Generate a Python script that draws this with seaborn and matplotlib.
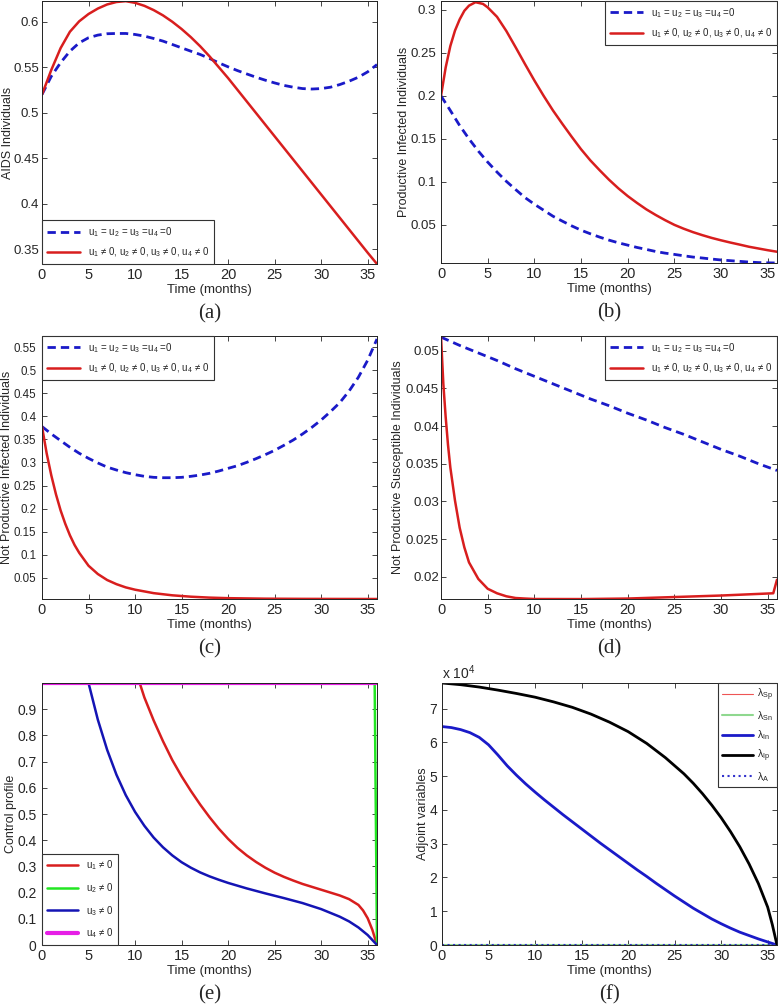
import numpy as np
import matplotlib
matplotlib.use('Agg')
import matplotlib.pyplot as plt
from matplotlib.ticker import FuncFormatter
import seaborn as sns

# ---------------- data ----------------
# (a) AIDS individuals
t_a = list(range(37))
a_no_ctrl = [0.520, 0.540, 0.555, 0.5676, 0.5768, 0.5824, 0.5853, 0.5868, 0.5871, 0.5871,
             0.586, 0.5842, 0.5816, 0.5787, 0.575, 0.5713, 0.5676, 0.564, 0.5596, 0.5548,
             0.5504, 0.5463, 0.5426, 0.539, 0.5357, 0.5327, 0.530, 0.528, 0.5265, 0.526,
             0.5265, 0.528, 0.5309, 0.5346, 0.539, 0.5449, 0.5529]
a_ctrl = [0.520, 0.547, 0.571, 0.589, 0.6005, 0.6085, 0.6145, 0.619, 0.6217, 0.6226,
          0.6208, 0.6175, 0.6128, 0.607, 0.600, 0.592, 0.583, 0.573, 0.562, 0.550,
          0.538, 0.5252, 0.5124, 0.4996, 0.4868, 0.474, 0.4612, 0.4484, 0.4356, 0.4228,
          0.410, 0.3972, 0.3844, 0.3716, 0.3588, 0.346, 0.3336]

# (b) productive infected
t_b = list(range(37))
b_no_ctrl = [0.2, 0.183, 0.1655, 0.150, 0.1358, 0.123, 0.1114, 0.1006, 0.091, 0.0817,
             0.074, 0.067, 0.060, 0.0543, 0.0488, 0.0438, 0.0396, 0.0357, 0.0322, 0.0291,
             0.0264, 0.0237, 0.0214, 0.019, 0.0171, 0.0156, 0.014, 0.0125, 0.0114, 0.0102,
             0.0091, 0.0083, 0.0075, 0.0067, 0.0061, 0.0058, 0.0056]
t_b_ctrl = [0, 0.5, 1, 1.5, 2, 2.5, 3, 3.7, 4.5, 5, 6, 7, 8, 9, 10, 11, 12, 13, 14, 15,
            16, 17, 18, 19, 20, 21, 22, 23, 24, 25, 26, 27, 28, 29, 30, 31, 32, 33, 34, 35, 36]
b_ctrl = [0.200, 0.233, 0.258, 0.276, 0.289, 0.299, 0.305, 0.309, 0.307, 0.303, 0.292,
          0.2755, 0.2565, 0.237, 0.218, 0.200, 0.183, 0.1675, 0.1525, 0.138, 0.125, 0.1135,
          0.1025, 0.0925, 0.0835, 0.0755, 0.068, 0.0615, 0.0555, 0.050, 0.0455, 0.0415,
          0.038, 0.0348, 0.032, 0.0294, 0.027, 0.0245, 0.0225, 0.0205, 0.0187]

# (c) not productive infected
t_c = list(range(37))
c_no_ctrl = [0.378, 0.362, 0.3474, 0.333, 0.320, 0.309, 0.299, 0.290, 0.2837, 0.278,
             0.2736, 0.270, 0.2678, 0.267, 0.267, 0.2678, 0.270, 0.2728, 0.2765, 0.2815,
             0.2873, 0.293, 0.3003, 0.3083, 0.317, 0.3264, 0.3373, 0.3488, 0.3619, 0.3763,
             0.3922, 0.4103, 0.4299, 0.455, 0.485, 0.522, 0.568]
t_c_ctrl = [0, 0.5, 1, 1.5, 2, 2.5, 3, 3.5, 4, 5, 6, 7, 8, 9, 10, 12, 14, 16, 18, 20, 24, 28, 32, 36]
c_ctrl = [0.378, 0.320, 0.272, 0.231, 0.196, 0.167, 0.142, 0.121, 0.104, 0.076, 0.058,
          0.045, 0.036, 0.029, 0.024, 0.0165, 0.0118, 0.0088, 0.0068, 0.0056, 0.0045,
          0.0041, 0.0039, 0.0038]

# (d) not productive susceptible
t_d = list(range(0, 37, 2))
d_no_ctrl = [0.0518, 0.0507, 0.0497, 0.0487, 0.0476, 0.0466, 0.0456, 0.0446, 0.0436, 0.0427,
             0.0417, 0.0408, 0.0398, 0.0389, 0.0379, 0.0369, 0.0360, 0.0350, 0.0341]
t_d_ctrl = [0, 0.25, 0.5, 0.75, 1, 1.5, 2, 2.5, 3, 4, 5, 6, 7, 8, 9, 10, 15, 20, 25, 30, 35.6, 36]
d_ctrl = [0.0519, 0.0456, 0.0412, 0.0375, 0.0345, 0.0301, 0.0265, 0.0239, 0.0219, 0.0197,
          0.0184, 0.0178, 0.0174, 0.01717, 0.0171, 0.01704, 0.01703, 0.0171, 0.0173, 0.0175,
          0.0178, 0.0196]

# (e) controls
t_u1 = [0, 10.5, 11, 12, 13, 14, 15, 16, 17, 18, 19, 20, 21, 22, 23, 24, 25, 26, 27, 28,
        29, 30, 31, 32, 33, 34, 34.5, 35, 35.5, 36]
u1 = [1, 1, 0.945, 0.857, 0.778, 0.706, 0.644, 0.588, 0.536, 0.488, 0.444, 0.405, 0.371,
      0.342, 0.317, 0.295, 0.276, 0.26, 0.246, 0.233, 0.222, 0.211, 0.2, 0.189, 0.175, 0.153,
      0.132, 0.102, 0.058, 0]
t_u2 = [0, 35.75, 36]
u2 = [1, 1, 0]
t_u3 = [0, 5, 6, 7, 8, 9, 10, 11, 12, 13, 14, 15, 16, 17, 18, 19, 20, 22, 24, 26, 28, 30,
        32, 33, 34, 35, 36]
u3 = [1, 1, 0.86, 0.745, 0.65, 0.572, 0.508, 0.455, 0.41, 0.373, 0.342, 0.316, 0.295,
      0.277, 0.262, 0.249, 0.237, 0.216, 0.197, 0.179, 0.16, 0.137, 0.108, 0.09, 0.067,
      0.038, 0]
t_u4 = [0, 36]
u4 = [1, 1]

# (f) adjoint variables
t_In = [0, 1, 2, 3, 4, 5, 6, 7, 8, 9, 10, 11, 12, 13, 14, 15, 16, 17, 18, 19, 20, 21, 22,
        23, 24, 25, 26, 27, 28, 29, 30, 31, 32, 33, 34, 35, 36]
lam_In = [6.47e4, 6.44e4, 6.38e4, 6.29e4, 6.15e4, 5.93e4, 5.63e4, 5.31e4, 5.03e4, 4.77e4,
          4.53e4, 4.3e4, 4.08e4, 3.86e4, 3.65e4, 3.44e4, 3.23e4, 3.02e4, 2.82e4, 2.62e4,
          2.42e4, 2.22e4, 2.03e4, 1.83e4, 1.64e4, 1.45e4, 1.27e4, 1.09e4, 0.93e4, 0.77e4,
          0.63e4, 0.5e4, 0.38e4, 0.28e4, 0.18e4, 0.09e4, 0]
t_Ip = [0, 2, 4, 6, 8, 10, 12, 14, 16, 18, 20, 22, 24, 26, 27, 28, 29, 30, 31, 32, 33, 34,
        35, 35.5, 36]
lam_Ip = [7.76e4, 7.71e4, 7.64e4, 7.55e4, 7.45e4, 7.34e4, 7.2e4, 7.04e4, 6.84e4, 6.6e4,
          6.32e4, 5.97e4, 5.55e4, 5.07e4, 4.79e4, 4.48e4, 4.14e4, 3.77e4, 3.36e4, 2.91e4,
          2.4e4, 1.82e4, 1.12e4, 0.6e4, 0]
t_zero = [0, 36]
lam_Sp = [0, 0]
lam_Sn = [0, 0]
lam_A = [0, 0]

leg0 = 'u$_1$ = u$_2$ = u$_3$ =u$_4$ =0'
leg1 = 'u$_1$ \u2260 0, u$_2$ \u2260 0, u$_3$ \u2260 0, u$_4$ \u2260 0'

RED = '#d81e1e'
BLUE = '#1a1ac8'

sns.set_theme(style='ticks')
plt.rcParams['font.family'] = ['Liberation Sans', 'DejaVu Sans']
plt.rcParams.update({
    'mathtext.fontset': 'custom',
    'mathtext.rm': 'Liberation Sans',
    'mathtext.it': 'Liberation Sans:italic',
    'xtick.direction': 'in', 'ytick.direction': 'in',
    'xtick.top': True, 'ytick.right': True,
    'xtick.major.size': 3.5, 'ytick.major.size': 3.5,
    'xtick.major.width': 0.6, 'ytick.major.width': 0.6,
    'axes.linewidth': 0.7, 'axes.edgecolor': '#222222',
    'xtick.labelsize': 10.5, 'ytick.labelsize': 10,
    'xtick.major.pad': 3,
})

W, H = 778, 1005
fig = plt.figure(figsize=(W / 100, H / 100), dpi=100)


def make_ax(l, r, top, bot):
    return fig.add_axes([l / W, 1 - bot / H, (r - l) / W, (bot - top) / H])


def finish(ax, letter, ylab, ylabx, h_px, ysize, ypad):
    ax.set_xlim(0, 36)
    ax.set_xticks(range(0, 36, 5))
    ax.yaxis.set_major_formatter(FuncFormatter(lambda v, p: '%g' % round(v, 6)))
    ax.tick_params(axis='y', labelsize=ysize, pad=ypad)
    ax.set_xlabel('Time (months)', fontsize=9.5)
    ax.xaxis.set_label_coords(0.5, -20 / h_px)
    ax.set_ylabel(ylab, fontsize=9)
    ax.yaxis.set_label_coords(ylabx, 0.5)
    ax.text(0.5, -50 / h_px, letter, transform=ax.transAxes, ha='center', va='center',
            fontsize=15, family='Liberation Serif')


def two_lines(ax, tb, yb, tr, yr, loc):
    sns.lineplot(x=tb, y=yb, ax=ax, color=BLUE, lw=2, ls=(0, (3, 1.8)), label=leg0)
    sns.lineplot(x=tr, y=yr, ax=ax, color=RED, lw=1.8, label=leg1)
    ax.legend(loc=loc, fontsize=7, frameon=True, fancybox=False, edgecolor='#333333',
              borderaxespad=0, handlelength=3.4, labelspacing=0.7, borderpad=0.5,
              framealpha=1)
    ax.get_legend().get_frame().set_linewidth(0.8)


# (a)
ax = make_ax(42, 377, 1, 264)
two_lines(ax, t_a, a_no_ctrl, t_a, a_ctrl, 'lower left')
ax.set_ylim(0.3336, 0.6228)
ax.set_yticks([0.35, 0.4, 0.45, 0.5, 0.55, 0.6])
finish(ax, '(a)', 'AIDS Individuals', -0.084, 263, 9.5, 2.2)

# (b)
ax = make_ax(441, 777, 1, 263)
two_lines(ax, t_b, b_no_ctrl, t_b_ctrl, b_ctrl, 'upper right')
ax.set_ylim(0.0056, 0.3104)
ax.set_yticks([0.05, 0.1, 0.15, 0.2, 0.25, 0.3])
finish(ax, '(b)', 'Productive Infected Individuals', -0.092, 262, 9.5, 3.5)

# (c)
ax = make_ax(42, 377, 336, 599)
two_lines(ax, t_c, c_no_ctrl, t_c_ctrl, c_ctrl, 'upper left')
ax.set_ylim(0.0038, 0.5745)
ax.set_yticks(np.arange(0.05, 0.56, 0.05))
finish(ax, '(c)', 'Not Productive Infected Individuals', -0.088, 263, 8.3, 4)

# (d)
ax = make_ax(441, 777, 336, 599)
two_lines(ax, t_d, d_no_ctrl, t_d_ctrl, d_ctrl, 'upper right')
ax.set_ylim(0.01704, 0.05195)
ax.set_yticks([0.02, 0.025, 0.03, 0.035, 0.04, 0.045, 0.05])
finish(ax, '(d)', 'Not Productive Susceptible Individuals', -0.110, 263, 9.5, 1.5)

# (e)
ax = make_ax(42, 377, 683, 945)
sns.lineplot(x=t_u1, y=u1, ax=ax, color=RED, lw=1.8, label='u$_1$ \u2260 0')
sns.lineplot(x=t_u2, y=u2, ax=ax, color='#22e622', lw=1.8, label='u$_2$ \u2260 0')
sns.lineplot(x=t_u3, y=u3, ax=ax, color='#1414b4', lw=1.8, label='u$_3$ \u2260 0')
sns.lineplot(x=t_u4, y=u4, ax=ax, color='#e61ee6', lw=3, label='u$_4$ \u2260 0')
ax.set_ylim(0, 1.0)
ax.set_yticks(np.arange(0, 0.95, 0.1))
ax.legend(loc='lower left', fontsize=7, frameon=True, fancybox=False, edgecolor='#333333',
          borderaxespad=0, handlelength=3.2, labelspacing=0.9, borderpad=0.5, framealpha=1)
ax.get_legend().get_frame().set_linewidth(0.8)
finish(ax, '(e)', 'Control profile', -0.076, 262, 10, 4)

# (f)
ax = make_ax(442, 777, 683, 945)
sns.lineplot(x=t_zero, y=lam_Sp, ax=ax, color='#ee5555', lw=0.8, label='\u03bb$_{\\rm Sp}$')
sns.lineplot(x=t_zero, y=lam_Sn, ax=ax, color='#8fd88f', lw=1.5, label='\u03bb$_{\\rm Sn}$')
sns.lineplot(x=t_In, y=lam_In, ax=ax, color='#1a1ac8', lw=2, label='\u03bb$_{\\rm In}$')
sns.lineplot(x=t_Ip, y=lam_Ip, ax=ax, color='black', lw=2, label='\u03bb$_{\\rm Ip}$')
sns.lineplot(x=t_zero, y=lam_A, ax=ax, color='#3333cc', lw=1.5, ls=':', label='\u03bb$_{\\rm A}$')
ax.set_ylim(0, 7.76e4)
ax.set_yticks(np.arange(0, 7.5e4, 1e4))
ax.legend(loc='upper right', fontsize=7.5, frameon=True, fancybox=False, edgecolor='#333333',
          borderaxespad=0, handlelength=3.0, handletextpad=0.4, labelspacing=0.55,
          borderpad=0.35, framealpha=1)
ax.get_legend().get_frame().set_linewidth(0.8)
finish(ax, '(f)', 'Adjoint variables', -0.039, 262, 10, 3.5)
ax.yaxis.set_major_formatter(FuncFormatter(lambda v, p: '%g' % round(v / 1e4, 6)))
ax.text(0.0, 1.005, 'x 10$^4$', transform=ax.transAxes, ha='left', va='bottom', fontsize=10)

fig.savefig('out.png', dpi=100)
